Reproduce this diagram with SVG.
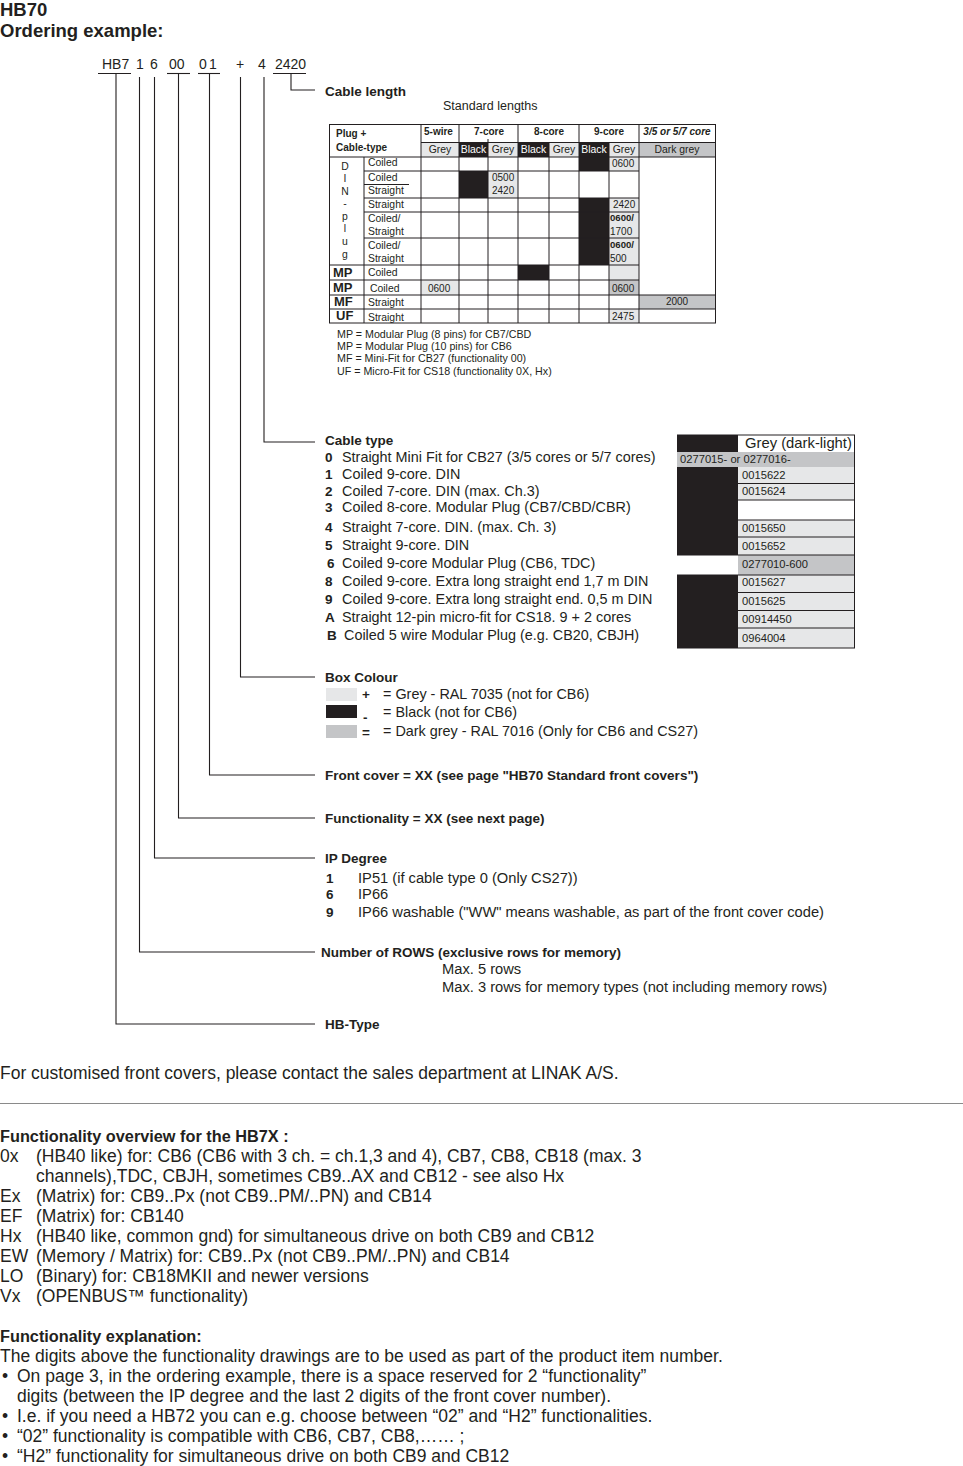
<svg xmlns="http://www.w3.org/2000/svg" width="963" height="1466" viewBox="0 0 963 1466">
<style>
text{font-family:"Liberation Sans",Arial,sans-serif;fill:#231f20}
.h{font-size:18.5px;font-weight:bold}
.code{font-size:14px}
.lb{font-size:13.5px;font-weight:bold}
.t{font-size:14.4px}
.t2{font-size:14.7px}
.tb{font-size:13.5px;font-weight:bold}
.s{font-size:12.5px}
.tl{font-size:10.4px}
.tlb{font-size:10px;font-weight:bold}
.tn{font-size:10px}
.tnb{font-size:9.6px;font-weight:bold}
.big{font-size:13px;font-weight:bold}
.w{fill:#fff}
.note{font-size:10.7px}
.rt{font-size:11.2px}
.p{font-size:17.5px}
.pb{font-size:16.3px;font-weight:bold}
.ln{stroke:#231f20;stroke-width:1.1;fill:none}
.g{stroke:#231f20;stroke-width:1;fill:none}
.lg{fill:#e6e7e8}
.dg{fill:#c4c5c7}
.bk{fill:#231f20}
</style>

<g id="title">
<text class="h" x="0" y="16">HB70</text>
<text class="h" x="0" y="37">Ordering example:</text>
</g>

<g id="code">
<text class="code" x="102" y="69">HB7</text>
<text class="code" x="136" y="69">1</text>
<text class="code" x="150" y="69">6</text>
<text class="code" x="169" y="69">00</text>
<text class="code" x="199" y="69">0</text>
<text class="code" x="209" y="69">1</text>
<text class="code" x="236" y="69">+</text>
<text class="code" x="258" y="69">4</text>
<text class="code" x="275" y="69">2420</text>
</g>

<g id="connectors" class="ln">
<line x1="98" y1="73.5" x2="131" y2="73.5"/>
<line x1="167" y1="73.5" x2="190" y2="73.5"/>
<line x1="198" y1="73.5" x2="220" y2="73.5"/>
<line x1="273" y1="73.5" x2="306" y2="73.5"/>
<polyline points="116,73.5 116,1024 315,1024"/>
<polyline points="139.5,77 139.5,952 315,952"/>
<polyline points="154.5,77 154.5,858 315,858"/>
<polyline points="178.5,73.5 178.5,818 315,818"/>
<polyline points="209.5,73.5 209.5,775 315,775"/>
<polyline points="240.5,77 240.5,677 315,677"/>
<polyline points="264,77 264,442 315,442"/>
<polyline points="291,73.5 291,90 315,90"/>
</g>

<g id="cable-length">
<text class="lb" x="325" y="96">Cable length</text>
<text class="s" x="443" y="110">Standard lengths</text>
</g>

<g id="length-table">
<rect class="lg" x="421" y="142.5" width="38" height="14.5"/>
<rect class="bk" x="459" y="142.5" width="29" height="14.5"/>
<rect class="lg" x="488" y="142.5" width="30" height="14.5"/>
<rect class="bk" x="518" y="142.5" width="31" height="14.5"/>
<rect class="lg" x="549" y="142.5" width="30" height="14.5"/>
<rect class="bk" x="579" y="142.5" width="30" height="14.5"/>
<rect class="lg" x="609" y="142.5" width="30" height="14.5"/>
<rect class="dg" x="639" y="142.5" width="77" height="14.5"/>
<rect class="bk" x="579" y="157" width="30" height="14"/>
<rect class="lg" x="609" y="157" width="30" height="14"/>
<rect class="bk" x="459" y="171" width="29" height="27"/>
<rect class="lg" x="488" y="171" width="30" height="27"/>
<rect class="bk" x="579" y="198" width="30" height="67"/>
<rect class="lg" x="609" y="198" width="30" height="82"/>
<rect class="bk" x="518" y="265" width="31" height="15"/>
<rect class="lg" x="421" y="280" width="38" height="15"/>
<rect class="dg" x="609" y="280" width="30" height="15"/>
<rect class="dg" x="639" y="295" width="77" height="14"/>
<rect class="lg" x="609" y="309" width="30" height="14"/>
<g class="g">
<rect x="329.5" y="124.5" width="386" height="198.5"/>
<line x1="421" y1="142.5" x2="716" y2="142.5"/>
<line x1="329" y1="157" x2="716" y2="157"/>
<line x1="364" y1="171" x2="639" y2="171"/>
<line x1="364" y1="184.5" x2="409" y2="184.5"/>
<line x1="364" y1="198" x2="639" y2="198"/>
<line x1="364" y1="212" x2="639" y2="212"/>
<line x1="364" y1="238" x2="639" y2="238"/>
<line x1="329" y1="265" x2="639" y2="265"/>
<line x1="329" y1="280" x2="639" y2="280"/>
<line x1="329" y1="295" x2="716" y2="295"/>
<line x1="329" y1="309" x2="716" y2="309"/>
<line x1="364" y1="157" x2="364" y2="323"/>
<line x1="421" y1="124" x2="421" y2="323"/>
<line x1="459" y1="124" x2="459" y2="323"/>
<line x1="488" y1="139" x2="488" y2="323"/>
<line x1="518" y1="124" x2="518" y2="323"/>
<line x1="549" y1="142.5" x2="549" y2="323"/>
<line x1="579" y1="124" x2="579" y2="323"/>
<line x1="609" y1="142.5" x2="609" y2="323"/>
<line x1="639" y1="124" x2="639" y2="323"/>
</g>
<text class="tlb" x="336" y="137">Plug +</text>
<text class="tlb" x="336" y="151">Cable-type</text>
<text class="tlb" x="424" y="135">5-wire</text>
<text class="tlb" x="489" y="135" text-anchor="middle">7-core</text>
<text class="tlb" x="549" y="135" text-anchor="middle">8-core</text>
<text class="tlb" x="609" y="135" text-anchor="middle">9-core</text>
<text class="tlb" x="677" y="135" text-anchor="middle" font-style="italic">3/5 or 5/7 core</text>
<text class="tl" x="440" y="153" text-anchor="middle">Grey</text>
<text class="tl w" x="473.5" y="153" text-anchor="middle">Black</text>
<text class="tl" x="503" y="153" text-anchor="middle">Grey</text>
<text class="tl w" x="533.5" y="153" text-anchor="middle">Black</text>
<text class="tl" x="564" y="153" text-anchor="middle">Grey</text>
<text class="tl w" x="594" y="153" text-anchor="middle">Black</text>
<text class="tl" x="624" y="153" text-anchor="middle">Grey</text>
<text class="tl" x="677" y="153" text-anchor="middle">Dark grey</text>
<g class="tl" text-anchor="middle">
<text x="345" y="170">D</text>
<text x="345" y="182">I</text>
<text x="345" y="195">N</text>
<text x="345" y="207">-</text>
<text x="345" y="220">p</text>
<text x="345" y="232">l</text>
<text x="345" y="245">u</text>
<text x="345" y="258">g</text>
</g>
<text class="big" x="333" y="277">MP</text>
<text class="big" x="333" y="292">MP</text>
<text class="big" x="334" y="306">MF</text>
<text class="big" x="336" y="320">UF</text>
<g class="tl">
<text x="368" y="166">Coiled</text>
<text x="368" y="181">Coiled</text>
<text x="368" y="194">Straight</text>
<text x="368" y="208">Straight</text>
<text x="368" y="222">Coiled/</text>
<text x="368" y="235">Straight</text>
<text x="368" y="249">Coiled/</text>
<text x="368" y="262">Straight</text>
<text x="368" y="276">Coiled</text>
<text x="370" y="292">Coiled</text>
<text x="368" y="306">Straight</text>
<text x="368" y="321">Straight</text>
</g>
<g class="tn">
<text x="612" y="167">0600</text>
<text x="492" y="181">0500</text>
<text x="492" y="194">2420</text>
<text x="613" y="208">2420</text>
<text x="610" y="235">1700</text>
<text x="610" y="262">500</text>
<text x="428" y="292">0600</text>
<text x="612" y="292">0600</text>
<text x="677" y="305" text-anchor="middle">2000</text>
<text x="612" y="320">2475</text>
</g>
<text class="tnb" x="610" y="221">0600/</text>
<text class="tnb" x="610" y="248">0600/</text>
</g>

<g id="plug-notes" class="note">
<text x="337" y="337.5">MP = Modular Plug (8 pins) for CB7/CBD</text>
<text x="337" y="349.5">MP = Modular Plug (10 pins) for CB6</text>
<text x="337" y="361.5">MF = Mini-Fit for CB27 (functionality 00)</text>
<text x="337" y="375">UF = Micro-Fit for CS18 (functionality 0X, Hx)</text>
</g>

<g id="cable-type">
<text class="lb" x="325" y="445">Cable type</text>
<text class="tb" x="325" y="462">0</text><text class="t" x="342" y="462">Straight Mini Fit for CB27 (3/5 cores or 5/7 cores)</text>
<text class="tb" x="325" y="478.5">1</text><text class="t" x="342" y="478.5">Coiled 9-core. DIN</text>
<text class="tb" x="325" y="495.5">2</text><text class="t" x="342" y="495.5">Coiled 7-core. DIN (max. Ch.3)</text>
<text class="tb" x="325" y="512">3</text><text class="t" x="342" y="512">Coiled 8-core. Modular Plug (CB7/CBD/CBR)</text>
<text class="tb" x="325" y="532">4</text><text class="t" x="342" y="532">Straight 7-core. DIN. (max. Ch. 3)</text>
<text class="tb" x="325" y="550">5</text><text class="t" x="342" y="550">Straight 9-core. DIN</text>
<text class="tb" x="327" y="568">6</text><text class="t" x="342" y="568">Coiled 9-core Modular Plug (CB6, TDC)</text>
<text class="tb" x="325" y="586">8</text><text class="t" x="342" y="586">Coiled 9-core. Extra long straight end 1,7 m DIN</text>
<text class="tb" x="325" y="604">9</text><text class="t" x="342" y="604">Coiled 9-core. Extra long straight end. 0,5 m DIN</text>
<text class="tb" x="325" y="622">A</text><text class="t" x="342" y="622">Straight 12-pin micro-fit for CS18. 9 + 2 cores</text>
<text class="tb" x="327" y="640">B</text><text class="t" x="344" y="640">Coiled 5 wire Modular Plug (e.g. CB20, CBJH)</text>
</g>

<g id="cable-table">
<rect class="bk" x="677" y="435" width="61" height="213"/>
<rect fill="#fff" x="738" y="435" width="117" height="17"/>
<rect class="dg" x="677" y="452" width="178" height="15"/>
<rect class="lg" x="738" y="467" width="116" height="33"/>
<rect fill="#fff" x="738" y="500" width="116" height="20"/>
<rect class="lg" x="738" y="520" width="116" height="35"/>
<rect fill="#fff" x="677" y="555" width="61" height="20"/>
<rect class="dg" x="738" y="555" width="116" height="20"/>
<rect class="lg" x="738" y="575" width="116" height="73"/>
<g class="g">
<line x1="677" y1="435" x2="855" y2="435"/>
<line x1="854.5" y1="435" x2="854.5" y2="648"/>
<line x1="677" y1="648" x2="855" y2="648"/>
<line x1="738" y1="483.5" x2="855" y2="483.5"/>
<line x1="738" y1="500" x2="855" y2="500"/>
<line x1="738" y1="520" x2="855" y2="520"/>
<line x1="738" y1="537" x2="855" y2="537"/>
<line x1="677" y1="555" x2="855" y2="555"/>
<line x1="677" y1="575" x2="855" y2="575"/>
<line x1="738" y1="592.5" x2="855" y2="592.5"/>
<line x1="738" y1="610.5" x2="855" y2="610.5"/>
<line x1="738" y1="628" x2="855" y2="628"/>
</g>
<text x="745" y="448" style="font-size:14.8px">Grey (dark-light)</text>
<g class="rt">
<text x="680" y="463">0277015- or 0277016-</text>
<text x="742" y="479">0015622</text>
<text x="742" y="495">0015624</text>
<text x="742" y="532">0015650</text>
<text x="742" y="550">0015652</text>
<text x="742" y="568">0277010-600</text>
<text x="742" y="586">0015627</text>
<text x="742" y="605">0015625</text>
<text x="742" y="623">00914450</text>
<text x="742" y="642">0964004</text>
</g>
</g>

<g id="box-colour">
<text class="lb" x="325" y="682">Box Colour</text>
<rect class="lg" x="326" y="688" width="31" height="13"/>
<rect class="bk" x="326" y="705" width="31" height="13"/>
<rect class="dg" x="326" y="725" width="31" height="13"/>
<text class="tb" x="362" y="699">+</text>
<text class="tb" x="363" y="722">-</text>
<text class="tb" x="362" y="737">=</text>
<text class="t" x="383" y="699">= Grey - RAL 7035 (not for CB6)</text>
<text class="t" x="383" y="717">= Black (not for CB6)</text>
<text class="t" x="383" y="736">= Dark grey - RAL 7016 (Only for CB6 and CS27)</text>
</g>

<g id="front-cover">
<text class="lb" x="325" y="780">Front cover = XX (see page "HB70 Standard front covers")</text>
</g>

<g id="functionality">
<text class="lb" x="325" y="823">Functionality = XX (see next page)</text>
</g>

<g id="ip-degree">
<text class="lb" x="325" y="863">IP Degree</text>
<text class="tb" x="326" y="882.5">1</text><text class="t2" x="358" y="882.5">IP51 (if cable type 0 (Only CS27))</text>
<text class="tb" x="326" y="899">6</text><text class="t2" x="358" y="899">IP66</text>
<text class="tb" x="326" y="917">9</text><text class="t2" x="358" y="917">IP66 washable ("WW" means washable, as part of the front cover code)</text>
</g>

<g id="rows">
<text class="lb" x="321" y="957">Number of ROWS (exclusive rows for memory)</text>
<text class="t2" x="442" y="974">Max. 5 rows</text>
<text class="t2" x="442" y="992">Max. 3 rows for memory types (not including memory rows)</text>
</g>

<g id="hb-type">
<text class="lb" x="325" y="1029">HB-Type</text>
</g>

<g id="footer">
<text class="p" x="0" y="1079">For customised front covers, please contact the sales department at LINAK A/S.</text>
<line x1="0" y1="1103.5" x2="963" y2="1103.5" stroke="#8a8a8a" stroke-width="1"/>
<text class="pb" x="0" y="1142">Functionality overview for the HB7X :</text>
<g class="p">
<text x="0" y="1162">0x</text><text x="36" y="1162">(HB40 like) for: CB6 (CB6 with 3 ch. = ch.1,3 and 4), CB7, CB8, CB18 (max. 3</text>
<text x="36" y="1182">channels),TDC, CBJH, sometimes CB9..AX and CB12 - see also Hx</text>
<text x="0" y="1202">Ex</text><text x="36" y="1202">(Matrix) for: CB9..Px (not CB9..PM/..PN) and CB14</text>
<text x="0" y="1222">EF</text><text x="36" y="1222">(Matrix) for: CB140</text>
<text x="0" y="1242">Hx</text><text x="36" y="1242">(HB40 like, common gnd) for simultaneous drive on both CB9 and CB12</text>
<text x="0" y="1262">EW</text><text x="36" y="1262">(Memory / Matrix) for: CB9..Px (not CB9..PM/..PN) and CB14</text>
<text x="0" y="1282">LO</text><text x="36" y="1282">(Binary) for: CB18MKII and newer versions</text>
<text x="0" y="1302">Vx</text><text x="36" y="1302">(OPENBUS™ functionality)</text>
</g>
<text class="pb" x="0" y="1342">Functionality explanation:</text>
<g class="p">
<text x="0" y="1362">The digits above the functionality drawings are to be used as part of the product item number.</text>
<text x="2" y="1382">•</text><text x="17" y="1382">On page 3, in the ordering example, there is a space reserved for 2 “functionality”</text>
<text x="17" y="1402">digits (between the IP degree and the last 2 digits of the front cover number).</text>
<text x="2" y="1422">•</text><text x="17" y="1422">I.e. if you need a HB72 you can e.g. choose between “02” and “H2” functionalities.</text>
<text x="2" y="1442">•</text><text x="17" y="1442">“02” functionality is compatible with CB6, CB7, CB8,…… ;</text>
<text x="2" y="1462">•</text><text x="17" y="1462">“H2” functionality for simultaneous drive on both CB9 and CB12</text>
</g>
</g>
</svg>
